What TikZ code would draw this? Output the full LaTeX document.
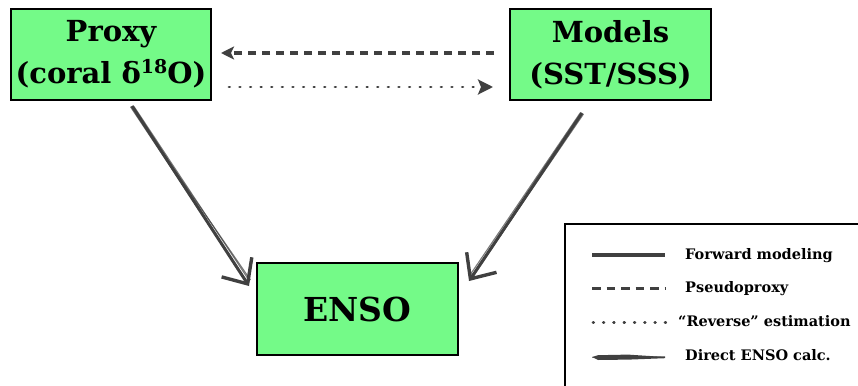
\documentclass[tikz,border=0pt]{standalone}
\usepackage{fontspec}
\setmainfont{DejaVu Serif}
\usetikzlibrary{arrows.meta,calc}
\definecolor{boxgreen}{RGB}{116,250,136}
\definecolor{arrgray}{RGB}{64,64,64}
\begin{document}
\begin{tikzpicture}[x=1pt,y=-1pt,
  box/.style={draw=black,line width=2pt,fill=boxgreen,align=center,inner sep=0pt,
    font=\bfseries\fontsize{29}{42}\selectfont},
  dasharr/.style={draw=arrgray,line width=3.5pt,dash pattern=on 8pt off 6pt,
    -{Stealth[length=13pt,width=13pt,inset=3pt]}},
  dotarr/.style={draw=arrgray,line width=2.8pt,line cap=round,dash pattern=on 0.7pt off 9.9pt,
    -{Stealth[length=15pt,width=15pt,inset=3pt,line cap=butt]}},
  sketchmain/.style={draw=arrgray,line width=3pt,
    -{Straight Barb[length=20pt,width=36pt,line width=3.4pt]}},
  sketchthin/.style={draw=arrgray,line width=1.1pt,opacity=0.7},
  legtext/.style={anchor=base west,inner sep=0pt,font=\bfseries\fontsize{14.5}{17}\selectfont},
  legline/.style={draw=arrgray,line width=3.8pt}
]
\useasboundingbox (0,0) rectangle (858,385);
\clip (0,0) rectangle (858,385);

% boxes
\node[box,minimum width=200pt,minimum height=91pt] (Proxy) at (111,54.5)
  {Proxy\\(coral δ\raisebox{0.36em}{\fontsize{19}{19}\selectfont 18}O)};
\node[box,minimum width=201pt,minimum height=91pt] (Models) at (610.5,54.5)
  {Models\\(SST/SSS)};
\node[box,minimum width=201pt,minimum height=92pt,font=\bfseries\fontsize{33}{40}\selectfont] (ENSO) at (357.5,309)
  {ENSO};

% top arrows
\draw[dasharr] ($(Models.west)+(-15,-1.5)$) -- ($(Proxy.east)+(9,-1.5)$);
\draw[dotarr] ($(Proxy.east)+(17,32.5)$) -- ($(Models.west)+(-16,32.5)$);

% sketchy arrows
\coordinate (ls) at ($(Proxy.south)+(21,5)$);
\coordinate (le) at ($(ENSO.north west)+(-7,24)$);
\coordinate (rs) at ($(Models.south)+(-28.5,12)$);
\coordinate (re) at ($(ENSO.north east)+(10,19)$);
\draw[sketchmain] (ls) -- (le);
\draw[sketchthin] ($(ls)+(2,0.5)$) -- ($(le)+(0.5,-5)$);
\draw[sketchthin] ($(ls)+(-1.5,0.8)$) -- ($(le)+(-3,-6)$);
\draw[sketchthin] ($(ls)+(4,8)$) -- ($(le)+(1.5,-6)$);
\draw[sketchmain] (rs) -- (re);
\draw[sketchthin] ($(rs)+(1.5,1)$) -- ($(re)+(3.5,-5)$);
\draw[sketchthin] ($(rs)+(-1.5,-0.5)$) -- ($(re)+(1,-6)$);
\draw[sketchthin] ($(rs)+(-4,6)$) -- ($(re)+(4,-4)$);

% legend
\node[draw=black,line width=2pt,anchor=north west,minimum width=330pt,minimum height=190pt,inner sep=0pt] (legbox) at (564,223) {};
\coordinate (f1) at (592,255); \coordinate (f2) at (665,255);
\coordinate (p1) at (592,288.5); \coordinate (p2) at (665,288.5);
\coordinate (r1) at (593,322.5); \coordinate (r2) at (666,322.5);
\coordinate (d1) at (592,357); \coordinate (d2) at (665,357);
\draw[legline] (f1) -- (f2);
\draw[legline,dash pattern=on 8.5pt off 6pt] (p1) -- (p2);
\draw[draw=arrgray,line width=2.8pt,line cap=round,dash pattern=on 0.7pt off 9.6pt] (r1) -- (r2);
\fill[arrgray] (d1) -- ++(6,-1.8) -- ++(30,-0.6) -- (d2) -- ++(0,1.2) -- ++(-36,1.4) -- ++(-31,0.4) -- cycle;
\draw[arrgray,line width=0.8pt,opacity=0.6] ($(d1)+(0,0.5)$) -- ($(d2)+(0,-0.5)$);

\node[legtext] (t1) at (685,259.5) {Forward modeling};
\node[legtext] (t2) at (685,292.5) {Pseudoproxy};
\node[legtext] (t3) at (678,326) {“Reverse” estimation};
\node[legtext] (t4) at (685,360.5) {Direct ENSO calc.};
\end{tikzpicture}
\end{document}
